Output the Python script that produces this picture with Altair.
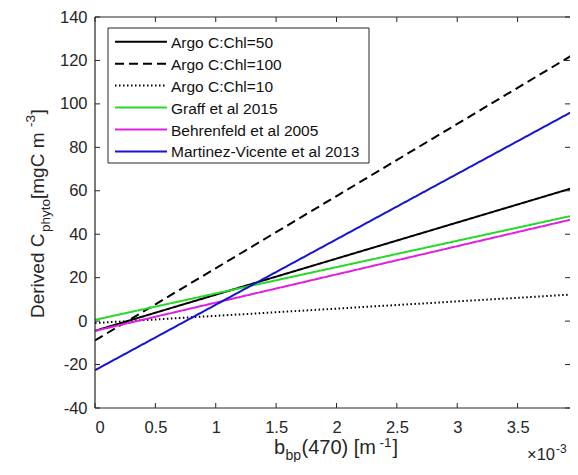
import altair as alt
import pandas as pd

# ---- data (x in units of 1e-3 m^-1) ----
series = ["Argo C:Chl=50", "Argo C:Chl=100", "Argo C:Chl=10",
          "Graff et al 2015", "Behrenfeld et al 2005", "Martinez-Vicente et al 2013"]
colors = ["#000000", "#000000", "#000000", "#26d926", "#e020e0", "#1515d0"]
dashes = [[1, 0], [9, 5], [1.5, 2.5], [1, 0], [1, 0], [1, 0]]

x_ends = [0.0, 4.0]
argo50 = [-4.45, 62.0]
argo100 = [-8.9, 124.0]
argo10 = [-0.9, 12.4]
graff = [0.6, 49.1]
behrenfeld = [-4.5, 47.5]
martinez = [-22.6, 97.9]

x_ticks = [0, 0.5, 1, 1.5, 2, 2.5, 3, 3.5]
y_ticks = [-40, -20, 0, 20, 40, 60, 80, 100, 120, 140]

# plot area: ~120.75 px per 1e-3 unit, right edge of the picture cuts the axes
W, H = 475, 391
X_MAX = 3.934
FONT = "Liberation Sans"
TXT = "#262626"

rows = []
for name, ys in zip(series, [argo50, argo100, argo10, graff, behrenfeld, martinez]):
    for xv, yv in zip(x_ends, ys):
        rows.append({"series": name, "x": xv, "y": yv})
df = pd.DataFrame(rows)

xs = alt.Scale(domain=[0, X_MAX], nice=False, zero=False)
ys_ = alt.Scale(domain=[-40, 140], nice=False, zero=False)
color_scale = alt.Scale(domain=series, range=colors)
dash_scale = alt.Scale(domain=series, range=dashes)

x_axis = alt.Axis(values=x_ticks, labelExpr="datum.value + ''", title=None,
                  labelPadding=11, labelFontSize=16.5, labelFont=FONT,
                  labelColor=TXT, domain=False, ticks=False, grid=False)
y_axis = alt.Axis(values=y_ticks, labelExpr="datum.value + ''", title=None,
                  labelPadding=8, labelFontSize=16.5, labelFont=FONT,
                  labelColor=TXT, domain=False, ticks=False, grid=False)

lines = alt.Chart(df).mark_line(strokeWidth=2, clip=True).encode(
    x=alt.X("x:Q", scale=xs, axis=x_axis),
    y=alt.Y("y:Q", scale=ys_, axis=y_axis),
    color=alt.Color("series:N", scale=color_scale, legend=None),
    strokeDash=alt.StrokeDash("series:N", scale=dash_scale, legend=None),
    detail="series:N",
)

xt = pd.DataFrame({"t": x_ticks})
yt = pd.DataFrame({"t": y_ticks})
tick_style = dict(color=TXT, strokeWidth=1)
bottom_ticks = alt.Chart(xt).mark_rule(**tick_style).encode(
    x=alt.X("t:Q", scale=xs, axis=x_axis), y=alt.value(H), y2=alt.value(H - 5))
top_ticks = alt.Chart(xt).mark_rule(**tick_style).encode(
    x=alt.X("t:Q", scale=xs, axis=x_axis), y=alt.value(0), y2=alt.value(5))
left_ticks = alt.Chart(yt).mark_rule(**tick_style).encode(
    y=alt.Y("t:Q", scale=ys_, axis=y_axis), x=alt.value(0), x2=alt.value(5))
right_ticks = alt.Chart(yt).mark_rule(**tick_style).encode(
    y=alt.Y("t:Q", scale=ys_, axis=y_axis), x=alt.value(W - 5), x2=alt.value(W))

one = pd.DataFrame({"a": [0]})
frame_style = dict(color=TXT, strokeWidth=1.2)
frame = [
    alt.Chart(one).mark_rule(**frame_style).encode(
        x=alt.value(0), y=alt.value(0), y2=alt.value(H)),
    alt.Chart(one).mark_rule(**frame_style).encode(
        x=alt.value(0), x2=alt.value(W), y=alt.value(H)),
    alt.Chart(one).mark_rule(**frame_style).encode(
        x=alt.value(0), x2=alt.value(W), y=alt.value(0)),
]

# ---- legend (drawn as marks, MATLAB style) ----
LEG_X0, LEG_X1, LEG_Y0, LEG_Y1 = 13, 274, 11, 146
ROW0, ROWSTEP = 24.7, 21.95
leg_box = alt.Chart(one).mark_rect(
    fill="white", stroke=TXT, strokeWidth=1).encode(
    x=alt.value(LEG_X0), x2=alt.value(LEG_X1), y=alt.value(LEG_Y0), y2=alt.value(LEG_Y1))
leg_layers = []
for i, name in enumerate(series):
    py = ROW0 + i * ROWSTEP
    row = pd.DataFrame({"series": [name]})
    leg_layers.append(alt.Chart(row).mark_rule(strokeWidth=2).encode(
        x=alt.value(20), x2=alt.value(72), y=alt.value(py),
        color=alt.Color("series:N", scale=color_scale, legend=None),
        strokeDash=alt.StrokeDash("series:N", scale=dash_scale, legend=None)))
    leg_layers.append(alt.Chart(row).mark_text(
        align="left", baseline="middle", font=FONT, fontSize=15.5, color="#111111",
        dy=1).encode(x=alt.value(76), y=alt.value(py), text="series:N"))


def label(text, px, py, size, angle=0):
    return alt.Chart(one).mark_text(
        text=text, font=FONT, fontSize=size, color=TXT, align="left",
        baseline="alphabetic", angle=angle).encode(x=alt.value(px), y=alt.value(py))


# x axis title  b_bp(470) [m^-1]
XB = 437
xt_parts = [
    label("b", 179, XB, 20),
    label("bp", 190.5, XB + 6, 14),
    label("(470) [m", 206.5, XB, 20),
    label("-1", 284.5, XB - 7.5, 13.5),
    label("]", 297.5, XB, 20),
]
# y axis title  Derived C_phyto [mgC m^-3]   (rotated, reads upward)
yb = -51
yt_parts = [
    label("Derived C", yb, 301, 19, 270),
    label("phyto", yb + 6, 215, 13.5, 270),
    label(" [mgC m", yb, 182, 19, 270),
    label("-3", yb - 9, 110, 13.5, 270),
    label("]", yb, 97.5, 19, 270),
]
# exponent  x10^-3
exp_parts = [
    label("\u00d710", 432, 443, 16.5),
    label("-3", 461, 436, 12),
]

chart = alt.layer(
    lines, bottom_ticks, top_ticks, left_ticks, right_ticks, *frame,
    leg_box, *leg_layers,
    *xt_parts, *yt_parts, *exp_parts
).properties(
    width=W, height=H,
    background="white",
    autosize=alt.AutoSizeParams(type="none"),
    padding={"left": 87, "top": 9, "right": 0, "bottom": 54},
).configure_view(
    strokeWidth=0
)

chart.save("out.html", embed_options={"renderer": "svg", "actions": False})
